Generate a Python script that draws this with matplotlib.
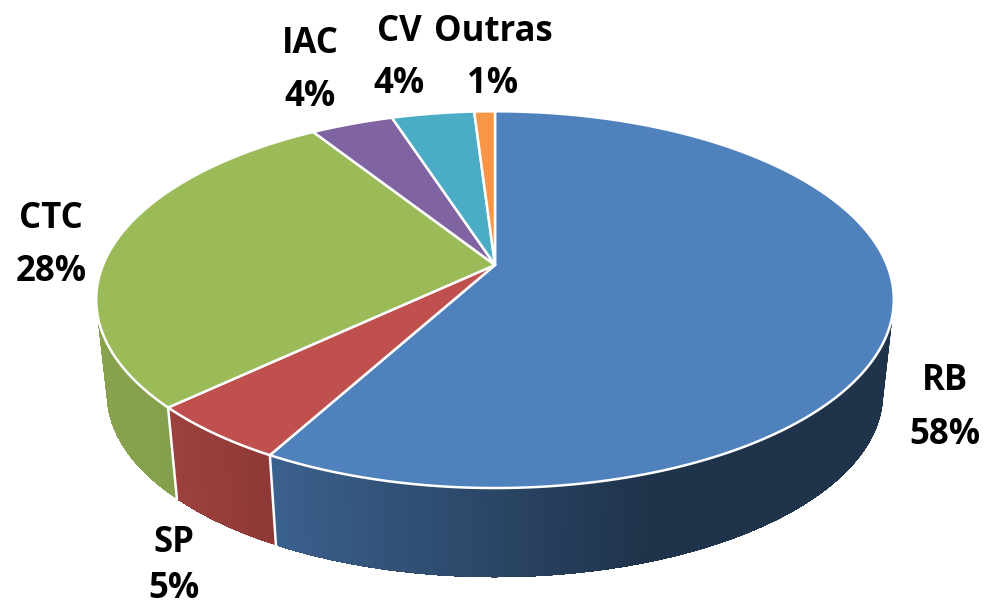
import matplotlib
matplotlib.use('Agg')
import matplotlib.pyplot as plt
import numpy as np

# data, clockwise from 12 o'clock
names = ['RB', 'SP', 'CTC', 'IAC', 'CV', 'Outras']
values = [58, 5, 28, 4, 4, 1]

top_colors = ['#4F81BD', '#C0504D', '#9BBB59', '#8064A2', '#4BACC6', '#F79646']
# wall colour at left and right end of each slice's wall
wall_left = ['#3B618E', '#9C413E', '#88A34E', '#6A5387', '#3E8FA5', '#CC7B39']
wall_right = ['#1F334A', '#8E3937', '#85A04C', '#6A5387', '#3E8FA5', '#CC7B39']

# perspective of the disc
cx, cy = 495, 265
a, b, k = 392, 182, 0.184
scale2, cy2 = 0.973, 360  # bottom ring


def top_ring(theta):
    u, v = np.sin(theta), np.cos(theta)
    w = 1 + k * v
    return cx + a * u / w, cy - b * v / w


def bottom_ring(theta):
    x, y = top_ring(theta)
    return cx + scale2 * (x - cx), cy2 + scale2 * (y - cy)


fig = plt.figure(figsize=(9.85, 6.08), dpi=100)
ax = fig.add_axes([0, 0, 1, 1])
ax.set_xlim(0, 985)
ax.set_ylim(608, 0)
ax.axis('off')

edges = np.cumsum([0] + values) / sum(values) * 2 * np.pi

# walls first, only the part facing the viewer
vis_start = np.arccos(-0.18)
vis_end = 2 * np.pi - vis_start
x_l, x_r = 276, 650
for i in range(len(values)):
    t0_vis, t1_vis = max(edges[i], vis_start), min(edges[i + 1], vis_end)
    if t1_vis <= t0_vis:
        continue
    ts = np.linspace(t0_vis, t1_vis, 200)
    xt, yt = top_ring(ts)
    xb, yb = bottom_ring(ts)
    c_left = np.array(matplotlib.colors.to_rgb(wall_left[i]))
    c_right = np.array(matplotlib.colors.to_rgb(wall_right[i]))
    lo, hi = (x_l, x_r) if i == 0 else (xb.min(), xb.max())
    # each quad runs on to the end of the slice, the next one paints over it,
    # so no white seams between the quads
    for j in range(len(ts) - 1):
        f = np.clip((xb[j] - lo) / (hi - lo), 0, 1)
        col = c_left + (c_right - c_left) * f
        ax.fill(np.r_[xt[j:], xb[j:][::-1]], np.r_[yt[j:], yb[j:][::-1]],
                color=col, lw=0, zorder=1)

# white lines between walls
for t in edges[1:3]:
    x1, y1 = top_ring(t)
    x2, y2 = bottom_ring(t)
    ax.plot([x1, x2], [y1, y2], color='white', lw=1.8, zorder=2)

# top faces
for i in range(len(values)):
    ts = np.linspace(edges[i], edges[i + 1], 200)
    xt, yt = top_ring(ts)
    ax.fill(np.r_[cx, xt], np.r_[cy, yt], facecolor=top_colors[i],
            edgecolor='white', lw=1.8, joinstyle='round', zorder=3)

# labels: name / percent, positions are text baselines
label_pos = [(945, 390, 444), (174, 552, 598), (51, 228, 281),
             (310, 53, 106), (399, 41, 93), (493, 41, 93)]
for name, val, (x, y1, y2) in zip(names, values, label_pos):
    ax.text(x, y1, name, ha='center', va='baseline', family='Open Sans',
            fontweight='bold', fontsize=25, color='black', zorder=5)
    ax.text(x, y2, '%d%%' % val, ha='center', va='baseline', family='Open Sans',
            fontweight='bold', fontsize=25, color='black', zorder=5)

fig.savefig('out.png', dpi=100)
